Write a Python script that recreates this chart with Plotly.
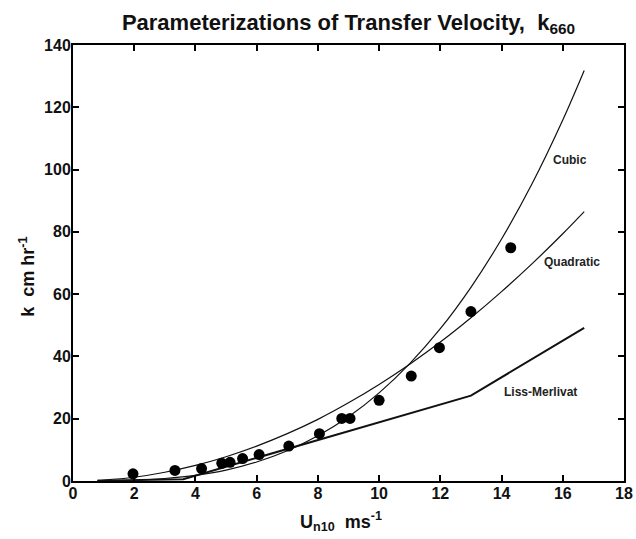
import plotly.graph_objects as go

# Observed transfer velocities (dots)
u_obs = [1.96, 3.33, 4.2, 4.86, 5.13, 5.54, 6.08, 7.05, 8.05, 8.78, 9.05, 10.0, 11.05, 11.97, 13.0, 14.3]
k_obs = [2.3, 3.4, 4.0, 5.7, 6.0, 7.2, 8.5, 11.2, 15.2, 20.1, 20.1, 25.9, 33.7, 42.8, 54.4, 74.9]

# Parameterization curves
u_curve = [0.8, 1, 2, 3, 4, 5, 6, 7, 8, 9, 10, 11, 12, 13, 14, 15, 16, 16.7]
k_quad = [0.2, 0.3, 1.2, 2.8, 5.0, 7.8, 11.2, 15.2, 19.8, 25.1, 31.0, 37.5, 44.6, 52.4, 60.8, 69.8, 79.4, 86.5]
k_cubic = [0.0, 0.03, 0.2, 0.8, 1.8, 3.5, 6.1, 9.7, 14.5, 20.6, 28.3, 37.7, 48.9, 62.2, 77.7, 95.5, 115.9, 131.8]

u_lm = [0.8, 3.6, 13.0, 16.7]
k_lm = [0.1, 0.6, 27.4, 49.2]

x_ticks = [0, 2, 4, 6, 8, 10, 12, 14, 16, 18]
y_ticks = [0, 20, 40, 60, 80, 100, 120, 140]

curve_labels = ["Cubic", "Quadratic", "Liss-Merlivat"]
label_x = [16.24, 16.3, 15.26]
label_y = [103.1, 70.3, 28.6]

FONT = "Liberation Sans, Arial, sans-serif"

fig = go.Figure()
fig.add_trace(go.Scatter(x=u_curve, y=k_cubic, mode="lines", line=dict(color="#111111", width=1.2, shape="spline"), showlegend=False))
fig.add_trace(go.Scatter(x=u_curve, y=k_quad, mode="lines", line=dict(color="#111111", width=1.2, shape="spline"), showlegend=False))
fig.add_trace(go.Scatter(x=u_lm, y=k_lm, mode="lines", line=dict(color="#111111", width=2), showlegend=False))
fig.add_trace(go.Scatter(x=u_obs, y=k_obs, mode="markers", marker=dict(color="black", size=11), showlegend=False))

for t, x, y in zip(curve_labels, label_x, label_y):
    fig.add_annotation(x=x, y=y, xref="x", yref="y", text="<b>%s</b>" % t, showarrow=False,
                       font=dict(family=FONT, size=12, color="#222222"))

fig.add_annotation(x=0.487, y=-0.094, xref="paper", yref="paper",
                   text="<b>U<sub>n10</sub>\u00a0\u00a0ms<sup>-1</sup></b>", showarrow=False,
                   xanchor="center", yanchor="middle", font=dict(family=FONT, size=18, color="#111111"))
fig.add_annotation(x=-0.082, y=0.468, xref="paper", yref="paper", textangle=-90,
                   text="<b>k\u00a0\u00a0cm hr<sup>-1</sup></b>", showarrow=False,
                   xanchor="center", yanchor="middle", font=dict(family=FONT, size=18, color="#111111"))

axis_common = dict(showline=True, linecolor="black", linewidth=2, mirror="ticks", ticks="inside",
                   ticklen=6, tickwidth=1.5, tickcolor="black", showgrid=False, zeroline=False,
                   ticklabelstandoff=-3, automargin=False,
                   tickfont=dict(family=FONT, size=16, color="#111111"))

fig.update_layout(
    width=636, height=539,
    margin=dict(l=73, r=12, t=45, b=58),
    paper_bgcolor="white", plot_bgcolor="white",
    title=dict(text="<b>Parameterizations of Transfer Velocity,\u00a0 k<sub>660</sub></b>",
               x=0.5, xref="paper", xanchor="center", y=0.959, yref="container", yanchor="middle",
               font=dict(family=FONT, size=22, color="#111111")),
    xaxis=dict(range=[0, 18], tickvals=x_ticks, ticktext=["<b>%d</b>" % v for v in x_ticks], **axis_common),
    yaxis=dict(range=[0, 140], tickvals=y_ticks, ticktext=["<b>%d</b>" % v for v in y_ticks], **axis_common),
)

# remove the default 8px page margin so the figure fills the window exactly
fig.write_html("out.html", config={"displayModeBar": False},
               post_script="document.body.style.margin='0';")
